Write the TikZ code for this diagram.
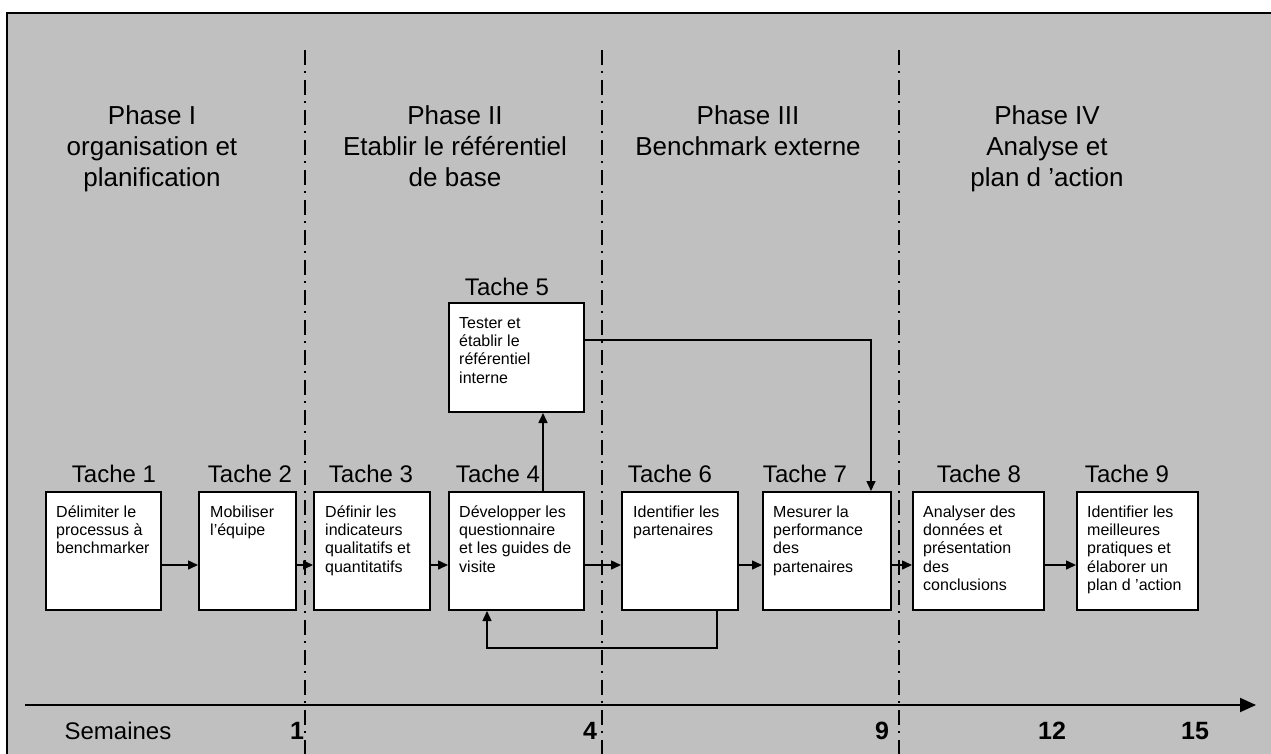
\documentclass[tikz,border=0pt]{standalone}
\usepackage{fontspec}
\setmainfont{Liberation Sans}
\usetikzlibrary{arrows.meta,calc}
\definecolor{bggray}{HTML}{C0C0C0}
\newcommand{\btxt}[1]{\parbox[t]{160pt}{\raggedright\strut #1}}
\newcommand{\ptxt}[1]{\parbox[t]{290pt}{\centering\strut #1}}
\begin{document}
\begin{tikzpicture}[x=1pt,y=-1pt,
  tbox/.style={draw, line width=2pt, fill=white, inner sep=0pt, anchor=north west},
  btext/.style={inner sep=0pt, anchor=north west, font=\fontsize{16}{18.3}\selectfont},
  tlabel/.style={anchor=base, inner sep=0pt, font=\fontsize{24}{28}\selectfont},
  phase/.style={anchor=north, inner sep=0pt, font=\fontsize{26}{31}\selectfont},
  axlabel/.style={anchor=base, inner sep=0pt, font=\fontsize{24}{28}\selectfont},
  weeknum/.style={anchor=base, inner sep=0pt, font=\fontsize{25}{28}\selectfont\bfseries},
  conn/.style={line width=1.5pt, -{Triangle[length=10pt,width=9pt]}},
  plainline/.style={line width=1.5pt},
  dashdot/.style={line width=1.5pt, dash pattern=on 15pt off 6pt on 2pt off 7pt},
  axisline/.style={line width=2pt, -{Triangle[length=16pt,width=14pt]}}
]
\path[use as bounding box, clip] (0,0) rectangle (1271,753);
\fill[white] (0,0) rectangle (1271,753);
\filldraw[fill=bggray, draw=black, line width=2pt] (6.5,12.5) rectangle (1320,800);

% phase separators
\coordinate (d1a) at (305,50); \coordinate (d1b) at (305,760);
\coordinate (d2a) at (602,50); \coordinate (d2b) at (602,760);
\coordinate (d3a) at (899,50); \coordinate (d3b) at (899,760);
\draw[dashdot] (d1a) -- (d1b);
\draw[dashdot] (d2a) -- (d2b);
\draw[dashdot] (d3a) -- (d3b);

% phase titles
\node[phase] (p1) at (152,102.3) {\ptxt{Phase I\\organisation et\\planification}};
\node[phase] (p2) at (455,102.3) {\ptxt{Phase II\\Etablir le référentiel\\de base}};
\node[phase] (p3) at (748,102.3) {\ptxt{Phase III\\Benchmark externe}};
\node[phase] (p4) at (1047,102.3) {\ptxt{Phase IV\\Analyse et\\plan d 'action}};

% boxes
\node[tbox, minimum width=115pt, minimum height=118pt] (t1) at (45,491) {};
\node[tbox, minimum width=97pt,  minimum height=118pt] (t2) at (198,491) {};
\node[tbox, minimum width=116pt, minimum height=118pt] (t3) at (313,491) {};
\node[tbox, minimum width=135pt, minimum height=118pt] (t4) at (448,491) {};
\node[tbox, minimum width=135pt, minimum height=109pt] (t5) at (448,302) {};
\node[tbox, minimum width=116pt, minimum height=118pt] (t6) at (621,491) {};
\node[tbox, minimum width=128pt, minimum height=118pt] (t7) at (762,491) {};
\node[tbox, minimum width=131pt, minimum height=118pt] (t8) at (912,491) {};
\node[tbox, minimum width=121pt, minimum height=118pt] (t9) at (1076,491) {};

% box texts
\node[btext] (x1) at ([xshift=11pt,yshift=-13.2pt]t1.north west) {\btxt{Délimiter le\\processus à\\benchmarker}};
\node[btext] (x2) at ([xshift=12pt,yshift=-13.2pt]t2.north west) {\btxt{Mobiliser\\l’équipe}};
\node[btext] (x3) at ([xshift=12pt,yshift=-13.2pt]t3.north west) {\btxt{Définir les\\indicateurs\\qualitatifs et\\quantitatifs}};
\node[btext] (x4) at ([xshift=11pt,yshift=-13.2pt]t4.north west) {\btxt{Développer les\\questionnaire\\et les guides de\\visite}};
\node[btext] (x5) at ([xshift=11pt,yshift=-13.2pt]t5.north west) {\btxt{Tester et\\établir le\\référentiel\\interne}};
\node[btext] (x6) at ([xshift=12pt,yshift=-13.2pt]t6.north west) {\btxt{Identifier les\\partenaires}};
\node[btext] (x7) at ([xshift=11pt,yshift=-13.2pt]t7.north west) {\btxt{Mesurer la\\performance\\des\\partenaires}};
\node[btext] (x8) at ([xshift=11pt,yshift=-13.2pt]t8.north west) {\btxt{Analyser des\\données et\\présentation\\des\\conclusions}};
\node[btext] (x9) at ([xshift=11pt,yshift=-13.2pt]t9.north west) {\btxt{Identifier les\\meilleures\\pratiques et\\élaborer un\\plan d 'action}};

% task labels
\node[tlabel] (l1) at (114,482) {Tache 1};
\node[tlabel] (l2) at (250,482) {Tache 2};
\node[tlabel] (l3) at (371,482) {Tache 3};
\node[tlabel] (l4) at (498,482) {Tache 4};
\node[tlabel] (l5) at (507,295) {Tache 5};
\node[tlabel] (l6) at (670,482) {Tache 6};
\node[tlabel] (l7) at (805,482) {Tache 7};
\node[tlabel] (l8) at (979,482) {Tache 8};
\node[tlabel] (l9) at (1127,482) {Tache 9};

% connectors
\coordinate (row) at (0,565);
\draw[conn] (t1.east |- row) -- (t2.west |- row);
\draw[conn] (t2.east |- row) -- (t3.west |- row);
\draw[conn] (t3.east |- row) -- (t4.west |- row);
\draw[conn] (t4.east |- row) -- (t6.west |- row);
\draw[conn] (t6.east |- row) -- (t7.west |- row);
\draw[conn] (t7.east |- row) -- (t8.west |- row);
\draw[conn] (t8.east |- row) -- (t9.west |- row);

\coordinate (up) at (543,0);
\draw[conn] (t4.north -| up) -- (t5.south -| up);

\coordinate (c57) at (871,340);
\draw[conn] (t5.east |- c57) -- (c57) -- (t7.north -| c57);

\coordinate (lp1) at (717,648);
\coordinate (lp2) at (487,648);
\draw[conn] (t6.south -| lp1) -- (lp1) -- (lp2) -- (t4.south -| lp2);

% time axis
\coordinate (axa) at (25,705);
\coordinate (axb) at (1256,705);
\draw[axisline] (axa) -- (axb);
\node[axlabel] (sem) at (118,739) {Semaines};
\node[weeknum] (w1) at (297,739) {1};
\node[weeknum] (w4) at (590,739) {4};
\node[weeknum] (w9) at (882,739) {9};
\node[weeknum] (w12) at (1052,739) {12};
\node[weeknum] (w15) at (1195,739) {15};
\end{tikzpicture}
\end{document}
